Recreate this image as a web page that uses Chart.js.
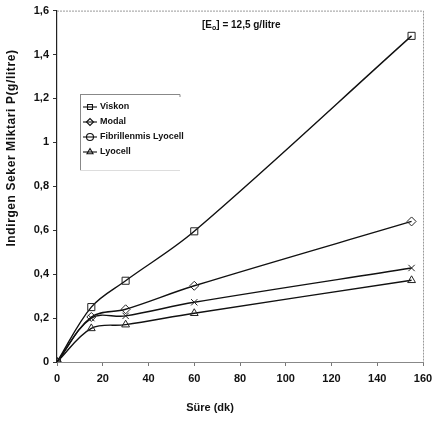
<!DOCTYPE html>
<html>
<head>
<meta charset="utf-8">
<script src="https://cdn.jsdelivr.net/npm/chart.js@4/dist/chart.umd.min.js"></script>
<style>
  html, body { margin: 0; padding: 0; background: #fff; }
  #wrap { width: 448px; height: 421px; }
</style>
</head>
<body>
<div id="wrap"><canvas id="myChart" width="448" height="421"></canvas></div>
<script>
var sure = [0, 15, 30, 60, 155];
var viskon = [0, 0.25, 0.37, 0.595, 1.485];
var modal = [0, 0.205, 0.24, 0.347, 0.64];
var fibrillenmis = [0, 0.20, 0.21, 0.272, 0.428];
var lyocell = [0, 0.153, 0.17, 0.222, 0.372];
var seriesNames = ['Viskon', 'Modal', 'Fibrillenmis Lyocell', 'Lyocell'];
var seriesMarkers = ['rect', 'rectRot', 'crossRot', 'triangle'];
var legendMarkers = ['rect', 'rectRot', 'circle', 'triangle'];
var xTicks = [0, 20, 40, 60, 80, 100, 120, 140, 160];
var xTitle = 'Süre (dk)';
var yTitle = 'Indirgen Seker Miktari P(g/litre)';

var fontFam = "'Liberation Sans Narrow', 'Liberation Sans', Arial, sans-serif";

function toPoints(vals) {
    return sure.map(function(t, i) { return { x: t, y: vals[i] }; });
}

var allSeries = [viskon, modal, fibrillenmis, lyocell];
var datasets = allSeries.map(function(vals, i) {
    return {
        label: seriesNames[i],
        data: toPoints(vals),
        borderColor: '#111',
        borderWidth: 1.4,
        backgroundColor: '#fff',
        pointStyle: seriesMarkers[i],
        pointRadius: seriesMarkers[i] == 'rect' ? 5 : 4.5,
        pointBorderColor: '#222',
        pointBorderWidth: 1,
        pointBackgroundColor: 'rgba(255,255,255,0)',
        tension: 0.35,
        fill: false
    };
});

// kutu, legend, eksen basliklari ve not
var extras = {
    id: 'extras',
    afterDraw: function(chart) {
        var ctx = chart.ctx;
        var a = chart.chartArea;
        ctx.save();
        // ust ve sag kenar (kesikli)
        ctx.strokeStyle = '#999';
        ctx.lineWidth = 1;
        ctx.setLineDash([2, 1]);
        ctx.beginPath();
        ctx.moveTo(a.left, a.top + 0.5);
        ctx.lineTo(a.right + 0.5, a.top + 0.5);
        ctx.lineTo(a.right + 0.5, a.bottom);
        ctx.stroke();
        ctx.setLineDash([]);

        // legend
        var lx = 80, ly = 94, lw = 100, lh = 76;
        ctx.strokeStyle = '#888';
        ctx.beginPath();
        ctx.moveTo(lx, ly + 0.5);
        ctx.lineTo(lx + lw, ly + 0.5);
        ctx.lineTo(lx + lw, ly + 3);
        ctx.moveTo(lx + 0.5, ly);
        ctx.lineTo(lx + 0.5, ly + lh);
        ctx.stroke();
        ctx.strokeStyle = '#ddd';
        ctx.beginPath();
        ctx.moveTo(lx, ly + lh + 0.5);
        ctx.lineTo(lx + lw, ly + lh + 0.5);
        ctx.stroke();
        ctx.textBaseline = 'middle';
        seriesNames.forEach(function(name, i) {
            var yy = ly + 13 + i * 15;
            ctx.strokeStyle = '#111';
            ctx.lineWidth = 1.1;
            ctx.beginPath();
            ctx.moveTo(lx + 3, yy);
            ctx.lineTo(lx + 17, yy);
            ctx.stroke();
            ctx.fillStyle = 'rgba(255,255,255,0)';
            Chart.helpers.drawPoint(ctx, {
                pointStyle: legendMarkers[i], radius: 3.5, rotation: 0, borderWidth: 1
            }, lx + 10, yy);
            ctx.fillStyle = '#111';
            ctx.font = 'bold 9px ' + fontFam;
            ctx.fillText(name, lx + 20, yy);
        });

        // [Eo] = 12,5 g/litre
        var tx = 202, ty = 28;
        ctx.fillStyle = '#111';
        ctx.font = 'bold 10px ' + fontFam;
        ctx.textBaseline = 'alphabetic';
        ctx.fillText('[E', tx, ty);
        var w = ctx.measureText('[E').width;
        ctx.font = 'bold 7px ' + fontFam;
        ctx.fillText('o', tx + w, ty + 2);
        var w2 = ctx.measureText('o').width;
        ctx.font = 'bold 10px ' + fontFam;
        ctx.fillText('] = 12,5 g/litre', tx + w + w2, ty);

        // x baslik
        ctx.textAlign = 'center';
        ctx.textBaseline = 'middle';
        ctx.font = 'bold 11px ' + fontFam;
        ctx.fillText(xTitle, 210, 408);

        // y baslik
        ctx.save();
        ctx.translate(12, 148);
        ctx.rotate(-Math.PI / 2);
        ctx.font = "bold 12px 'Liberation Sans', Arial, sans-serif";
        ctx.letterSpacing = '0.6px';
        ctx.fillText(yTitle, 0, 0);
        ctx.restore();
        ctx.restore();
    }
};

var ctx = document.getElementById('myChart').getContext('2d');
var myChart = new Chart(ctx, {
    type: 'line',
    data: { datasets: datasets },
    plugins: [extras],
    options: {
        responsive: false,
        animation: false,
        layout: { padding: { top: 7, right: 25, left: 0, bottom: 0 } },
        plugins: {
            legend: { display: false },
            tooltip: { enabled: false }
        },
        scales: {
            x: {
                type: 'linear',
                min: 0,
                max: 160,
                afterBuildTicks: function(scale) {
                    scale.ticks = xTicks.map(function(v) { return { value: v }; });
                },
                grid: { display: true, drawOnChartArea: false, tickLength: 4, color: '#777' },
                border: { color: '#888', width: 1 },
                ticks: {
                    color: '#111',
                    font: { family: fontFam, size: 11, weight: 'bold' },
                    padding: 6,
                    maxRotation: 0
                },
                afterFit: function(scale) { scale.height = 59; }
            },
            y: {
                min: 0,
                max: 1.6,
                ticks: {
                    stepSize: 0.2,
                    color: '#111',
                    font: { family: fontFam, size: 11, weight: 'bold' },
                    padding: 4,
                    callback: function(v) {
                        var s = String(Math.round(v * 10) / 10);
                        return s.replace('.', ',');
                    }
                },
                grid: { display: true, drawOnChartArea: false, tickLength: 4, color: '#333' },
                border: { color: '#222', width: 1.2 },
                afterFit: function(scale) { scale.width = 57; }
            }
        }
    }
});
</script>
</body>
</html>
